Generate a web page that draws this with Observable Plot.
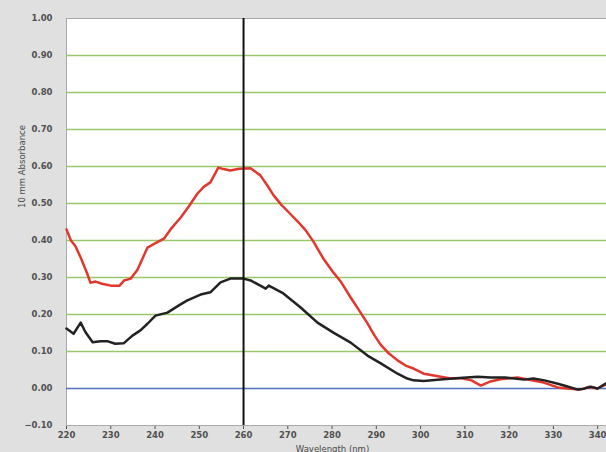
<!DOCTYPE html>
<html>
<head>
<meta charset="utf-8">
<script src="https://cdn.jsdelivr.net/npm/d3@7"></script>
<script src="https://cdn.jsdelivr.net/npm/@observablehq/plot@0.6"></script>
<style>
  html, body { margin: 0; padding: 0; background: #e0e0e0; }
  #chart { width: 606px; height: 452px; overflow: hidden; }
</style>
</head>
<body>
<div id="chart"></div>
<script>
const redWavelength = [220,221,222,223.2,224.7,225.4,226.6,228,230,232,233,234.5,236,238.3,240,242,243.5,245.8,247.5,249.6,251,252.5,254.3,255.5,257,259,261.6,263.8,265.3,266.8,268.5,270.3,272.2,274,275.8,277,278.1,280,281.9,284.2,286,288,289.5,291,292.8,294.8,296.6,298.4,300.7,303,306.8,309,311.5,313.6,315.8,318,321.9,324,326,327.8,331,333,336,338,340,342];
const redAbsorbance = [0.43,0.40,0.385,0.354,0.31,0.286,0.289,0.283,0.278,0.278,0.292,0.297,0.32,0.381,0.392,0.405,0.43,0.462,0.49,0.527,0.545,0.557,0.597,0.593,0.589,0.594,0.595,0.576,0.55,0.522,0.497,0.475,0.452,0.428,0.397,0.372,0.35,0.318,0.29,0.246,0.213,0.176,0.145,0.118,0.095,0.076,0.062,0.054,0.04,0.035,0.027,0.028,0.022,0.008,0.019,0.025,0.03,0.025,0.02,0.016,0.003,0.0,-0.003,0.004,0.0,0.012];

const blackWavelength = [220,221.6,223.2,224.3,225.9,227.7,229.2,231,232.9,234.9,236.7,238.3,240.1,242.8,245.3,247.3,250.3,252.5,254.8,257,260,261.6,263.8,265,265.7,269,272.9,276.7,280.3,284.2,288,291,294.8,297,298.4,300.7,304.5,308,312.9,315.8,319,323.3,325.5,328,331,333,335.5,336.8,338.4,340,342];
const blackAbsorbance = [0.162,0.148,0.178,0.152,0.125,0.128,0.128,0.121,0.122,0.143,0.157,0.175,0.197,0.205,0.224,0.238,0.254,0.26,0.287,0.297,0.297,0.292,0.278,0.27,0.278,0.257,0.219,0.178,0.151,0.124,0.089,0.068,0.04,0.027,0.022,0.02,0.024,0.028,0.032,0.03,0.03,0.024,0.027,0.022,0.013,0.006,-0.003,-0.001,0.005,0.0,0.015];

const xTicks = [220,230,240,250,260,270,280,290,300,310,320,330,340];
const yTicks = [-0.1,0,0.1,0.2,0.3,0.4,0.5,0.6,0.7,0.8,0.9,1.0];
const gridLevels = [0.1,0.2,0.3,0.4,0.5,0.6,0.7,0.8,0.9];
const zeroLevel = [0];
const markerWavelength = [260];
const yLabel = "10 mm Absorbance";
const xLabel = "Wavelength (nm)";

const red = redWavelength.map((w, i) => ({w, v: redAbsorbance[i]}));
const black = blackWavelength.map((w, i) => ({w, v: blackAbsorbance[i]}));

const chart = Plot.plot({
  width: 606,
  height: 452,
  marginLeft: 66,
  marginRight: 0,
  marginTop: 18,
  marginBottom: 27,
  style: {background: "#e0e0e0", fontFamily: "DejaVu Sans, sans-serif", fontSize: "8.5px", fontWeight: "bold", color: "#505050"},
  x: {domain: [220, 342], ticks: xTicks, tickFormat: d3.format("d"), tickSize: 4, tickPadding: 2, label: null},
  y: {domain: [-0.1, 1.0], ticks: yTicks, tickFormat: d3.format(".2f"), tickSize: 0, tickPadding: 14, label: null},
  marks: [
    Plot.frame({fill: "white", stroke: "#aaaaaa"}),
    Plot.ruleY(gridLevels, {stroke: "#97c96a", strokeWidth: 1.6}),
    Plot.ruleY(zeroLevel, {stroke: "#4f6fc0", strokeWidth: 1.6}),
    Plot.line(red, {x: "w", y: "v", stroke: "#e2372d", strokeWidth: 2.5}),
    Plot.line(black, {x: "w", y: "v", stroke: "#222222", strokeWidth: 2.5}),
    Plot.ruleX(markerWavelength, {stroke: "#111111", strokeWidth: 2}),
    Plot.text([yLabel], {frameAnchor: "left", text: d => d, rotate: -90, dx: -44, dy: -14, fontSize: 8.5, fontWeight: "normal", fill: "#4a4a4a"}),
    Plot.text([xLabel], {frameAnchor: "bottom", text: d => d, dy: 26, dx: -4, fontSize: 8.5, fontWeight: "normal", fill: "#4a4a4a"})
  ]
});
document.getElementById("chart").appendChild(chart);
</script>
</body>
</html>
